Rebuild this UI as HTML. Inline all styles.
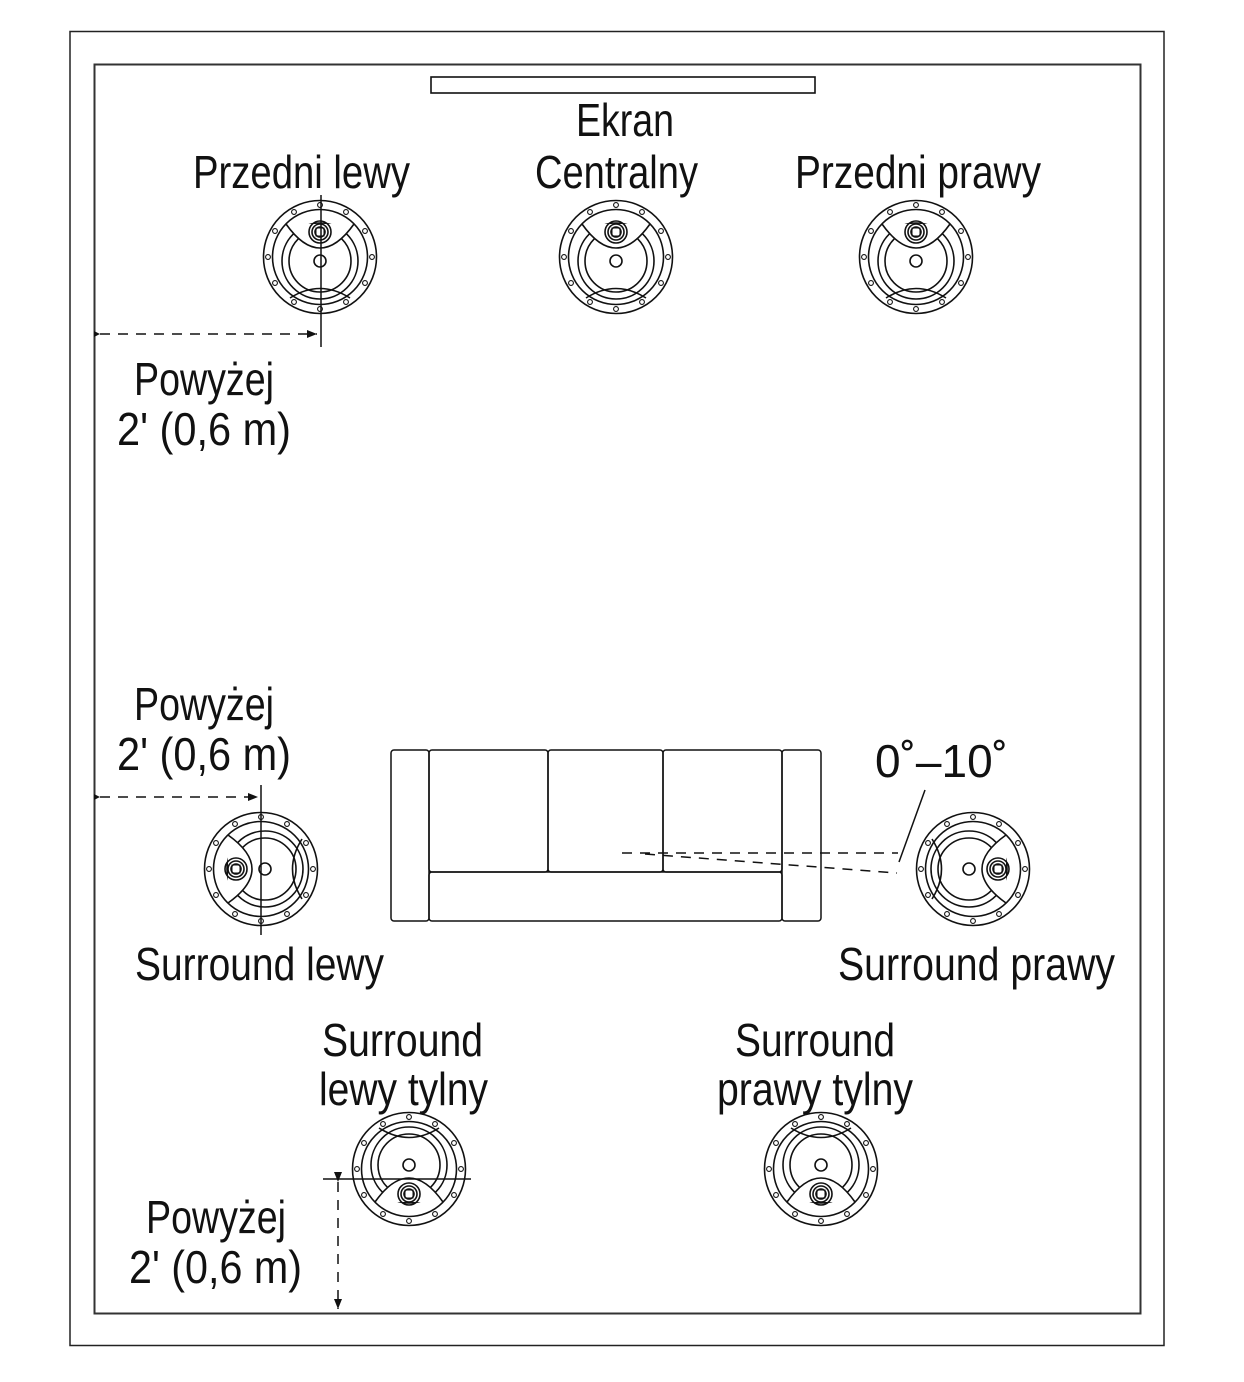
<!DOCTYPE html>
<html><head><meta charset="utf-8"><style>
html,body{margin:0;padding:0;background:#fff;}
svg{display:block;}
text{font-family:"Liberation Sans",sans-serif;font-size:46px;fill:#111;}
</style></head><body>
<svg width="1244" height="1382" viewBox="0 0 1244 1382" xmlns="http://www.w3.org/2000/svg">
<defs>
<g id="spk" fill="none" stroke="#111" stroke-width="1.6">
  <circle r="56.5" fill="#fff"/>
  <circle r="47.5"/>
  <g stroke-width="1.1">
    <circle cx="0" cy="-52" r="2.4"/><circle cx="26" cy="-45" r="2.4"/><circle cx="45" cy="-26" r="2.4"/>
    <circle cx="52" cy="0" r="2.4"/><circle cx="45" cy="26" r="2.4"/><circle cx="26" cy="45" r="2.4"/>
    <circle cx="0" cy="52" r="2.4"/><circle cx="-26" cy="45" r="2.4"/><circle cx="-45" cy="26" r="2.4"/>
    <circle cx="-52" cy="0" r="2.4"/><circle cx="-45" cy="-26" r="2.4"/><circle cx="-26" cy="-45" r="2.4"/>
  </g>
  <circle cx="0" cy="4" r="38"/>
  <circle cx="0" cy="4" r="31"/>
  <path d="M-34,-33 Q0,15 34,-33" fill="#fff"/>
  <circle cx="0" cy="-25" r="11"/>
  <circle cx="0" cy="-25" r="8"/>
  <circle cx="0" cy="-25" r="5"/>
  <rect x="-4" y="-29" width="8" height="8" stroke-width="1"/>
  <circle cx="0" cy="4" r="6"/>
  <path d="M-30,41 Q0,22 30,41"/>
</g>
<marker id="ah" markerWidth="10" markerHeight="8" refX="10" refY="4" orient="auto" markerUnits="userSpaceOnUse"><path d="M0,0 L10,4 L0,8Z" fill="#111"/></marker>
<marker id="ahs" markerWidth="6" markerHeight="6" refX="6" refY="3" orient="auto" markerUnits="userSpaceOnUse"><path d="M0,0 L6,3 L0,6Z" fill="#111"/></marker>
</defs>

<rect x="70" y="31.5" width="1094" height="1314" fill="none" stroke="#222" stroke-width="1.5"/>
<rect x="94.5" y="64.5" width="1046" height="1249" fill="none" stroke="#333" stroke-width="2"/>
<rect x="431" y="77" width="384" height="16" fill="none" stroke="#111" stroke-width="1.6"/>

<g fill="none" stroke="#111" stroke-width="1.5">
<rect x="391" y="750" width="38" height="171" rx="3"/>
<rect x="782" y="750" width="39" height="171" rx="3"/>
<rect x="429" y="750" width="119" height="122" rx="3"/>
<rect x="548" y="750" width="115" height="122" rx="3"/>
<rect x="663" y="750" width="119" height="122" rx="3"/>
<rect x="429" y="872" width="353" height="49" rx="3"/>
</g>

<use href="#spk" transform="translate(320,257)"/>
<use href="#spk" transform="translate(616,257)"/>
<use href="#spk" transform="translate(916,257)"/>
<use href="#spk" transform="translate(261,869) rotate(-90)"/>
<use href="#spk" transform="translate(973,869) rotate(90)"/>
<use href="#spk" transform="translate(409,1169) rotate(180)"/>
<use href="#spk" transform="translate(821,1169) rotate(180)"/>

<g stroke="#111" stroke-width="1.5" fill="none">
<line x1="321" y1="195" x2="321" y2="347"/>
<line x1="100" y1="334" x2="317" y2="334" stroke-dasharray="10,8" marker-end="url(#ah)" marker-start="url(#ahs)"/>
<line x1="261" y1="785" x2="261" y2="935"/>
<line x1="100" y1="797" x2="258" y2="797" stroke-dasharray="10,8" marker-end="url(#ah)" marker-start="url(#ahs)"/>
<line x1="323" y1="1179" x2="471" y2="1179"/>
<line x1="338" y1="1182" x2="338" y2="1309" stroke-dasharray="10,8" marker-end="url(#ah)" marker-start="url(#ah)"/>
<line x1="622" y1="853" x2="898" y2="853" stroke-dasharray="10,8"/>
<line x1="645" y1="854" x2="897" y2="873" stroke-dasharray="10,8"/>
<line x1="925" y1="790" x2="899" y2="862"/>
</g>

<text x="576" y="136" textLength="98" lengthAdjust="spacingAndGlyphs">Ekran</text>
<text x="535" y="188" textLength="163" lengthAdjust="spacingAndGlyphs">Centralny</text>
<text x="193" y="188" textLength="217" lengthAdjust="spacingAndGlyphs">Przedni lewy</text>
<text x="795" y="188" textLength="246" lengthAdjust="spacingAndGlyphs">Przedni prawy</text>
<text x="134" y="395" textLength="140" lengthAdjust="spacingAndGlyphs">Powyżej</text>
<text x="117" y="445" textLength="174" lengthAdjust="spacingAndGlyphs">2' (0,6 m)</text>
<text x="134" y="720" textLength="140" lengthAdjust="spacingAndGlyphs">Powyżej</text>
<text x="117" y="770" textLength="174" lengthAdjust="spacingAndGlyphs">2' (0,6 m)</text>
<text x="875" y="777" textLength="133" lengthAdjust="spacingAndGlyphs">0˚–10˚</text>
<text x="135" y="980" textLength="249" lengthAdjust="spacingAndGlyphs">Surround lewy</text>
<text x="838" y="980" textLength="277" lengthAdjust="spacingAndGlyphs">Surround prawy</text>
<text x="322" y="1056" textLength="161" lengthAdjust="spacingAndGlyphs">Surround</text>
<text x="319" y="1105" textLength="169" lengthAdjust="spacingAndGlyphs">lewy tylny</text>
<text x="735" y="1056" textLength="160" lengthAdjust="spacingAndGlyphs">Surround</text>
<text x="717" y="1105" textLength="196" lengthAdjust="spacingAndGlyphs">prawy tylny</text>
<text x="146" y="1233" textLength="140" lengthAdjust="spacingAndGlyphs">Powyżej</text>
<text x="129" y="1283" textLength="173" lengthAdjust="spacingAndGlyphs">2' (0,6 m)</text>
</svg>
</body></html>
